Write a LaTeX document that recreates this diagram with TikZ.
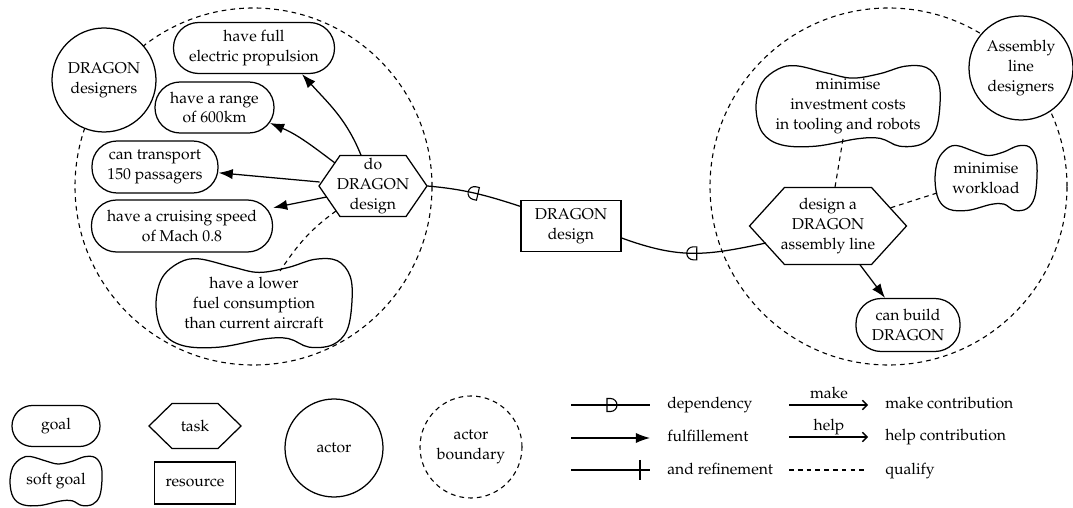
\documentclass[tikz,border=0pt]{standalone}
\usepackage[T1]{fontenc}
\renewcommand{\rmdefault}{ppl}
\usetikzlibrary{arrows.meta,calc,decorations.markings}
\newcommand\pxu{0.637pt}
\tikzset{
  every node/.style={font=\fontsize{10}{12.6}\selectfont, align=center, inner sep=0pt},
  nodeline/.style={line width=0.8pt},
  goalnode/.style={rectangle, draw, nodeline, fill=white, rounded corners=#1},
  goalnode/.default=16pt,
  actornode/.style={circle, draw, nodeline, fill=white},
  resnode/.style={rectangle, draw, nodeline, fill=white},
  boundarynode/.style={circle, draw, line width=0.7pt, dash pattern=on 3pt off 2.6pt},
  fulfil/.style={line width=0.8pt, -{Latex[length=9pt,width=6.5pt]}},
  qualif/.style={line width=0.7pt, dash pattern=on 3pt off 2.6pt},
  contrib/.style={line width=0.8pt, -{Straight Barb[length=3pt,width=6pt]}},
  depend/.style={line width=0.8pt, postaction={decorate, decoration={markings,
      mark=at position 0.5 with {\draw[line width=0.7pt, xscale=#1] (3.5,-6.5) -- (3.5,6.5) -- (0,6.5)
        arc[start angle=90,end angle=270,radius=6.5] -- cycle;}}}},
  depend/.default=1,
}
% soft goal: name, x, y, half width, half height, text
\newcommand\softgoal[6]{%
  \draw[nodeline, fill=white, shift={(#2,#3)}] plot[smooth cycle, tension=0.6] coordinates {
    ({-0.76*#4},{0.90*#5}) ({-0.56*#4},{0.98*#5}) ({-0.22*#4},{0.80*#5}) ({0.05*#4},{0.68*#5})
    ({0.35*#4},{0.79*#5}) ({0.62*#4},{0.97*#5}) ({0.85*#4},{0.94*#5}) ({0.98*#4},{0.6*#5})
    ({1.0*#4},{0.05*#5}) ({0.95*#4},{-0.6*#5}) ({0.8*#4},{-0.93*#5}) ({0.56*#4},{-0.98*#5})
    ({0.35*#4},{-0.79*#5}) ({0.1*#4},{-0.80*#5}) ({-0.35*#4},{-0.98*#5}) ({-0.72*#4},{-0.95*#5})
    ({-0.93*#4},{-0.65*#5}) ({-1.0*#4},{-0.05*#5}) ({-0.94*#4},{0.55*#5})};
  \node[minimum width={2*#4*\pxu}, minimum height={2*#5*\pxu}] (#1) at (#2,#3) {#6};
}
% task: name, x, y, width, height, inset, text
\newcommand\tasknode[7]{%
  \draw[nodeline, fill=white, shift={(#2,#3)}] ({-#4/2},0) -- ({-#4/2+#6},{#5/2}) -- ({#4/2-#6},{#5/2})
    -- ({#4/2},0) -- ({#4/2-#6},{-#5/2}) -- ({-#4/2+#6},{-#5/2}) -- cycle;
  \node[minimum width={#4*\pxu}, minimum height={#5*\pxu}] (#1) at (#2,#3) {#7};
}
\begin{document}
\begin{tikzpicture}[x=\pxu,y=\pxu]
\useasboundingbox (0,0) rectangle (1073,-508);
% actor boundaries
\node[boundarynode, minimum size=357*\pxu] (lb) at (253.5,-186.5) {};
\node[boundarynode, minimum size=357*\pxu] (rb) at (888.5,-186.5) {};
% actors
\node[actornode, minimum size=104*\pxu] (act1) at (104,-80) {DRAGON\\designers};
\node[actornode, minimum size=104*\pxu] (act2) at (1021,-68) {Assembly\\line\\designers};
% left goals
\node[goalnode, minimum width=161*\pxu, minimum height=51*\pxu] (g1) at (254,-48) {have full\\electric propulsion};
\node[goalnode, minimum width=119*\pxu, minimum height=51*\pxu] (g2) at (214.5,-107.5) {have a range\\of 600km};
\node[goalnode, minimum width=126*\pxu, minimum height=52*\pxu] (g3) at (155,-167) {can transport\\150 passagers};
\node[goalnode, minimum width=181*\pxu, minimum height=52*\pxu] (g4) at (182,-226) {have a cruising speed\\of Mach 0.8};
\softgoal{sg1}{254}{-303}{98}{45}{have a lower\\fuel consumption\\than current aircraft}
\tasknode{t1}{373}{-186}{108}{61}{21}{do\\DRAGON\\design}
% resource
\node[resnode, minimum width=100*\pxu, minimum height=51*\pxu] (r1) at (571,-226) {DRAGON\\design};
% right side
\softgoal{sg2}{848}{-106}{92}{41}{minimise\\investment costs\\in tooling and robots}
\softgoal{sg3}{986}{-178}{51}{33}{minimise\\workload}
\tasknode{t2}{828}{-226}{157}{77}{35}{design a\\DRAGON\\assembly line}
\node[goalnode, minimum width=104*\pxu, minimum height=53*\pxu] (g5) at (908,-325) {can build\\DRAGON};
% connectors
\draw[fulfil] ($(t1.north)+(-12,0)$) to[out=112,in=-48] ($(g1.south)+(48,0)$);
\draw[fulfil] ($(t1.center)+(-38,23)$) to[out=143,in=-23] ($(g2.center)+(55.5,-15.5)$);
\draw[fulfil] ($(t1.west)+(1,4)$) -- (g3);
\draw[fulfil] ($(t1.west)+(8,-11)$) -- (g4);
\draw[qualif] ($(t1.center)+(-37,-25)$) to[out=-144,in=56] ($(sg1.center)+(26,32)$);
\draw[depend] (t1.east) to[out=-5,in=162] ($(r1.north west)+(0,-6.5)$);
\draw[depend] ($(r1.east)+(0,-12)$) to[out=-20,in=192,looseness=1.1] ($(t2.center)+(-62,-17)$);
\draw[fulfil] ($(t2.south)+(32,0)$) -- ($(g5.north)+(-23,0)$);
\draw[qualif] ($(sg2.center)+(-5,-33)$) -- ($(t2.north)+(7,0)$);
\draw[qualif] ($(sg3.center)+(-49,-15)$) -- ($(t2.center)+(62,18)$);
% legend shapes
\node[goalnode=13pt, minimum width=88*\pxu, minimum height=41*\pxu] (lgoal) at (56,-426) {goal};
\softgoal{lsoft}{56}{-481}{46}{25}{soft goal}
\tasknode{ltask}{195}{-426}{92}{45}{23}{task}
\node[resnode, minimum width=81*\pxu, minimum height=42*\pxu] (lres) at (195,-483) {resource};
\node[actornode, minimum size=98*\pxu] (lactor) at (334,-448) {actor};
\node[boundarynode, minimum size=102*\pxu] (lbound) at (471,-447) {actor\\boundary};
% legend links
\coordinate (ld1) at (571,-405); \coordinate (ld2) at (650,-405);
\draw[depend=-1] (ld1) -- (ld2);
\coordinate (lf1) at (571,-438); \coordinate (lf2) at (650,-438);
\draw[fulfil] (lf1) -- (lf2);
\coordinate (lr1) at (571,-470); \coordinate (lr2) at (650,-470);
\draw[nodeline] (lr1) -- (lr2);
\coordinate (lrb1) at (640,-460); \coordinate (lrb2) at (640,-480);
\draw[line width=1pt] (lrb1) -- (lrb2);
\node[anchor=base west] (tdep) at (667,-409) {dependency};
\node[anchor=base west] (tful) at (667,-442) {fulfillement};
\node[anchor=base west] (tref) at (667,-474) {and refinement};
\coordinate (lm1) at (789,-405); \coordinate (lm2) at (868,-405);
\draw[contrib] (lm1) -- (lm2);
\node[anchor=base] (lmake) at (829,-399) {make};
\coordinate (lh1) at (789,-437); \coordinate (lh2) at (868,-437);
\draw[contrib] (lh1) -- (lh2);
\node[anchor=base] (lhelp) at (829,-431) {help};
\coordinate (lq1) at (789,-470); \coordinate (lq2) at (868,-470);
\draw[qualif] (lq1) -- (lq2);
\node[anchor=base west] (tmake) at (885,-409) {make contribution};
\node[anchor=base west] (thelp) at (885,-441) {help contribution};
\node[anchor=base west] (tqual) at (885,-474) {qualify};
\end{tikzpicture}
\end{document}
